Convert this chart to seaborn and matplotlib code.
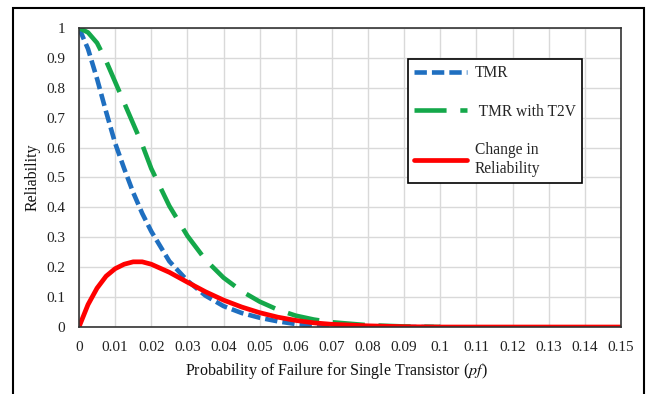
import numpy as np
import pandas as pd
import matplotlib
matplotlib.use("Agg")
import matplotlib.pyplot as plt
import seaborn as sns
from matplotlib.patches import Rectangle

# Values
pf = [0, 0.0025, 0.005, 0.0075, 0.01, 0.0125, 0.015, 0.0175, 0.02, 0.025, 0.03,
      0.035, 0.04, 0.045, 0.05, 0.055, 0.06, 0.065, 0.07, 0.08, 0.09, 0.10]
tmr = [1, 0.93, 0.83, 0.72, 0.615, 0.53, 0.45, 0.38, 0.32, 0.22, 0.155,
       0.105, 0.07, 0.047, 0.031, 0.019, 0.01, 0.005, 0.003, 0.001, 0, 0]
tmr_t2v = [1, 0.985, 0.95, 0.89, 0.82, 0.75, 0.68, 0.61, 0.53, 0.405, 0.305,
           0.225, 0.165, 0.12, 0.085, 0.058, 0.038, 0.025, 0.016, 0.006, 0.002, 0]
pf_change = pf + [0.11, 0.12, 0.13, 0.14, 0.15]
change = [0, 0.075, 0.13, 0.17, 0.195, 0.21, 0.218, 0.218, 0.21, 0.183, 0.15,
          0.118, 0.09, 0.067, 0.048, 0.033, 0.022, 0.014, 0.009, 0.004, 0.001, 0,
          0, 0, 0, 0, 0]
labels = ["TMR", " TMR with T2V", "Change in\nReliability"]
x_ticks = [round(0.01 * i, 2) for i in range(16)]
x_ticklabels = ["0", "0.01", "0.02", "0.03", "0.04", "0.05", "0.06", "0.07", "0.08",
                "0.09", "0.1", "0.11", "0.12", "0.13", "0.14", "0.15"]
y_ticks = [round(0.1 * i, 1) for i in range(11)]
y_ticklabels = ["0", "0.1", "0.2", "0.3", "0.4", "0.5", "0.6", "0.7", "0.8", "0.9", "1"]

sns.set_theme(style="whitegrid")
plt.rcParams["font.family"] = ["Liberation Serif", "DejaVu Serif"]
plt.rcParams["mathtext.fontset"] = "stix"

fig = plt.figure(figsize=(6.56, 3.94), dpi=100)
fig.patch.set_facecolor("white")
ax = fig.add_axes([0.1204, 0.170, 0.8262, 0.759])

df_a = pd.DataFrame({"pf": pf, "TMR": tmr, "T2V": tmr_t2v})
df_b = pd.DataFrame({"pf": pf_change, "change": change})

sns.lineplot(data=df_a, x="pf", y="TMR", ax=ax, color="#1F6FC0", lw=3.3,
             label=labels[0]).lines[-1].set_dashes([2.7, 1.1])
sns.lineplot(data=df_a, x="pf", y="T2V", ax=ax, color="#14A84A", lw=3.3,
             label=labels[1]).lines[-1].set_dashes([7.0, 3.0])
sns.lineplot(data=df_b, x="pf", y="change", ax=ax, color="#FF0000", lw=3.4,
             label=labels[2])

ax.set_xlim(0, 0.15)
ax.set_ylim(0, 1)
ax.set_xticks(x_ticks)
ax.set_xticklabels(x_ticklabels)
ax.set_yticks(y_ticks)
ax.set_yticklabels(y_ticklabels)
ax.tick_params(axis="x", length=0, labelsize=11, colors="#222222", pad=10)
ax.tick_params(axis="y", length=0, labelsize=11, colors="#222222", pad=10)
ax.grid(True, color="#D9D9D9", lw=1)
ax.set_facecolor("white")
for s in ax.spines.values():
    s.set_color("#333333")
    s.set_linewidth(1.2)
    s.set_visible(True)

ax.set_xlabel("Probability of Failure for Single Transistor ($\\it{pf}$)", fontsize=11.5,
              color="#111111")
ax.xaxis.set_label_coords(0.474, -0.115)
ax.set_ylabel("Reliability", fontsize=11.5, color="#111111", labelpad=4)

leg = ax.legend(loc="upper left", bbox_to_anchor=(0.607, 0.896), fontsize=11.2,
                frameon=True, fancybox=False, handlelength=3.4, labelspacing=1.45,
                borderpad=0.4, handletextpad=0.5, borderaxespad=0)
leg.get_frame().set_edgecolor("black")
leg.get_frame().set_linewidth(1.2)
leg.get_frame().set_alpha(1)

# outer frame around the chart
fig.patches.append(Rectangle((13 / 656, -0.02), 631 / 656, 1 - 8 / 394 + 0.02,
                             transform=fig.transFigure, fill=False,
                             edgecolor="black", lw=1.5))

fig.savefig("out.png", dpi=100)
